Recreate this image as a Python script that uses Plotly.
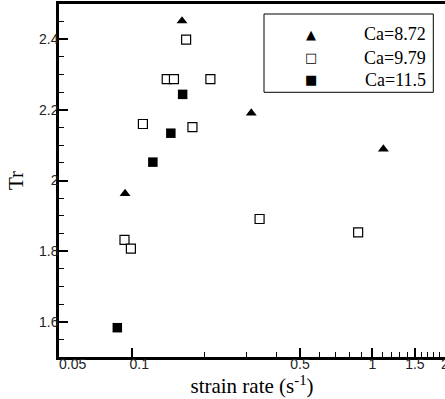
import plotly.graph_objects as go

# Ca = 8.72 (filled triangles)
x_872 = [0.162, 0.094, 0.314, 1.11]
y_872 = [2.452, 1.963, 2.191, 2.089]

# Ca = 9.79 (open squares)
x_979 = [0.1685, 0.140, 0.150, 0.2125, 0.1115, 0.179, 0.0935, 0.0994, 0.340, 0.872]
y_979 = [2.399, 2.287, 2.287, 2.287, 2.160, 2.151, 1.832, 1.807, 1.891, 1.853]

# Ca = 11.5 (filled squares)
x_115 = [0.163, 0.1456, 0.1226, 0.0873]
y_115 = [2.244, 2.134, 2.052, 1.583]

series_names = ["Ca=8.72", "Ca=9.79", "Ca=11.5"]
legend_glyphs = ["\u25B2", "\u25A1", "\u25A0"]

x_tickvals = [0.05, 0.1, 0.5, 1, 1.5, 2]
x_ticktext = ["\u00a0" * 7 + "0.05", "\u00a0" * 4 + "0.1", "0.5", "1", "1.5", "2"]
x_minor = [0.2, 0.3, 0.4, 0.6, 0.7, 0.8, 0.9,
           1.1, 1.2, 1.3, 1.4, 1.6, 1.7, 1.8, 1.9]
y_tickvals = [1.6, 1.8, 2.0, 2.2, 2.4]
y_ticktext = ["1.6", "1.8", "2", "2.2", "2.4"]

serif = "Liberation Serif, Times New Roman, serif"
sans = "Liberation Sans, Arial, sans-serif"

fig = go.Figure()
fig.add_trace(go.Scatter(x=x_872, y=y_872, mode="markers", name=series_names[0],
                         marker=dict(symbol="triangle-up", size=9.5, color="black",
                                     line=dict(width=0))))
fig.add_trace(go.Scatter(x=x_979, y=y_979, mode="markers", name=series_names[1],
                         marker=dict(symbol="square", size=9, color="white",
                                     line=dict(width=1.2, color="black"))))
fig.add_trace(go.Scatter(x=x_115, y=y_115, mode="markers", name=series_names[2],
                         marker=dict(symbol="square", size=9.5, color="black",
                                     line=dict(width=0))))

# legend box drawn as a shape with text annotations (Tecplot-like layout)
fig.add_shape(type="rect", xref="paper", yref="paper",
              x0=0.5311, x1=0.9697, y0=0.7499, y1=0.9717,
              line=dict(color="black", width=1), fillcolor="white", layer="above")
row_y = [0.914, 0.848, 0.785]
for name, glyph, yy in zip(series_names, legend_glyphs, row_y):
    fig.add_annotation(xref="paper", yref="paper", x=0.9552, y=yy,
                       xanchor="right", yanchor="middle", showarrow=False,
                       text=name, font=dict(family=serif, size=18, color="black"))
    fig.add_annotation(xref="paper", yref="paper", x=0.652, y=yy,
                       xanchor="center", yanchor="middle", showarrow=False,
                       text=glyph, font=dict(family="DejaVu Sans", size=13, color="black"))

fig.update_layout(
    width=445, height=399,
    margin=dict(l=59, r=0, t=4, b=42, autoexpand=False),
    paper_bgcolor="white", plot_bgcolor="white",
    showlegend=False,
    xaxis=dict(type="log", range=[0.6990 - 2, 0.30103], automargin=False,
               tickmode="array", tickvals=x_tickvals, ticktext=x_ticktext,
               ticks="inside", ticklen=9, tickwidth=1.5, tickcolor="black",
               minor=dict(tickvals=x_minor, ticks="inside", ticklen=5,
                          tickwidth=1, tickcolor="black"),
               showgrid=False, zeroline=False,
               showline=True, linecolor="black", linewidth=2.5, mirror=True,
               tickfont=dict(family=sans, size=14, color="#222"),
               ticklabeloverflow="allow", ticklabelstandoff=-8,
               title=dict(text="strain rate (s<sup>-1</sup>)",
                          font=dict(family=serif, size=21, color="black"),
                          standoff=4)),
    yaxis=dict(range=[1.5, 2.5], automargin=False,
               tickmode="array", tickvals=y_tickvals, ticktext=y_ticktext,
               ticks="inside", ticklen=9, tickwidth=1.5, tickcolor="black",
               minor=dict(dtick=0.05, tick0=1.5, ticks="inside", ticklen=5,
                          tickwidth=1, tickcolor="black"),
               showgrid=False, zeroline=False,
               showline=True, linecolor="black", linewidth=2.5,
               tickfont=dict(family=sans, size=14, color="#222"),
               ticklabelstandoff=-5,
               title=dict(text="Tr", font=dict(family=serif, size=21, color="black"),
                          standoff=10)),
)

fig.write_html("out.html")
